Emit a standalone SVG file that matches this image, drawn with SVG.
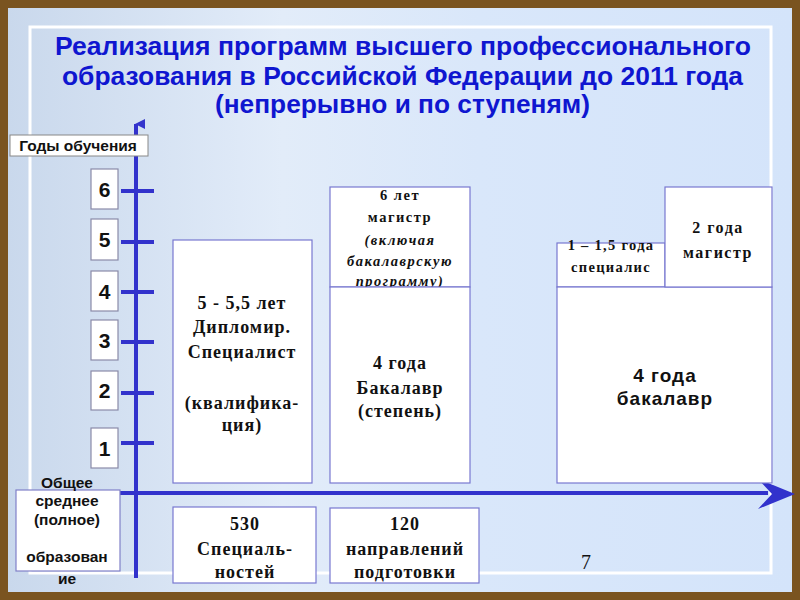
<svg xmlns="http://www.w3.org/2000/svg" width="800" height="600" viewBox="0 0 800 600">
<defs>
<linearGradient id="bg" x1="0" y1="0" x2="1" y2="0">
<stop offset="0" stop-color="#c9d8ec"/>
<stop offset="0.35" stop-color="#e2ecf9"/>
<stop offset="0.6" stop-color="#d9e7fa"/>
<stop offset="1" stop-color="#d4e4fa"/>
</linearGradient>
<marker id="upArrow" viewBox="0 0 10 10" refX="5" refY="1" markerWidth="2.5" markerHeight="3" orient="auto-start-reverse" markerUnits="strokeWidth">
<path d="M0,10 L5,0 L10,10 Z" fill="#3535cc"/>
</marker>
<style>
.axis{stroke:#3232cc;stroke-width:4;fill:none}
.tick{stroke:#3232cc;stroke-width:4}
.box{fill:#ffffff;stroke:#7878d0;stroke-width:1.2}
.nbox{fill:#ffffff;stroke:#8a8aa8;stroke-width:1.2}
.num{font-family:"Liberation Sans",Arial,sans-serif;font-weight:bold;font-size:21px;fill:#111;text-anchor:middle}
.sans{font-family:"Liberation Sans",Arial,sans-serif;font-weight:bold;fill:#111;text-anchor:middle}
.serif{font-family:"Liberation Serif","Times New Roman",serif;font-weight:bold;fill:#111;text-anchor:middle}
.title{font-family:"Liberation Sans",Arial,sans-serif;font-weight:bold;font-size:25px;fill:#0f16d0;text-anchor:middle}
</style>
</defs>
<!-- frame -->
<rect x="0" y="0" width="800" height="600" fill="#7a5420"/>
<rect x="8" y="8" width="784" height="584" fill="url(#bg)"/>
<rect x="30" y="27" width="741" height="546" fill="none" stroke="#ffffff" stroke-width="3"/>
<!-- title -->
<g id="title">
<text class="title" x="403" y="55" textLength="696" lengthAdjust="spacingAndGlyphs">Реализация программ высшего профессионального</text>
<text class="title" x="402.5" y="85" textLength="681" lengthAdjust="spacingAndGlyphs">образования в Российской Федерации до 2011 года</text>
<text class="title" x="402.5" y="113" textLength="375" lengthAdjust="spacingAndGlyphs">(непрерывно и по ступеням)</text>
</g>
<!-- connectors / axes -->
<g id="axes">
<line class="axis" x1="136" y1="578" x2="136" y2="124" marker-end="url(#upArrow)"/>
<line class="axis" x1="118" y1="493" x2="768" y2="493"/>
<path d="M795,494 L758,479 L772,494 L758,509 Z" fill="#3232cc"/>
<line class="tick" x1="121" y1="191" x2="154" y2="191"/>
<line class="tick" x1="121" y1="242" x2="154" y2="242"/>
<line class="tick" x1="121" y1="292" x2="154" y2="292"/>
<line class="tick" x1="121" y1="342" x2="154" y2="342"/>
<line class="tick" x1="121" y1="393" x2="154" y2="393"/>
<line class="tick" x1="121" y1="443" x2="154" y2="443"/>
</g>
<!-- axis label -->
<g id="years-label">
<rect x="10" y="135" width="138" height="21" fill="#ffffff" stroke="#888" stroke-width="1"/>
<text class="sans" x="78" y="151" font-size="15.5">Годы обучения</text>
</g>
<!-- year number boxes -->
<g id="y6"><rect class="nbox" x="91" y="169" width="27" height="40"/><text class="num" x="104.5" y="197">6</text></g>
<g id="y5"><rect class="nbox" x="91" y="219" width="27" height="41"/><text class="num" x="104.5" y="247">5</text></g>
<g id="y4"><rect class="nbox" x="91" y="271" width="27" height="40"/><text class="num" x="104.5" y="299">4</text></g>
<g id="y3"><rect class="nbox" x="91" y="320" width="27" height="40"/><text class="num" x="104.5" y="348">3</text></g>
<g id="y2"><rect class="nbox" x="91" y="371" width="27" height="39"/><text class="num" x="104.5" y="398">2</text></g>
<g id="y1"><rect class="nbox" x="91" y="428" width="27" height="40"/><text class="num" x="104.5" y="456">1</text></g>
<!-- general secondary -->
<g id="general">
<rect x="16" y="490" width="104" height="81" fill="#ffffff" stroke="#8080c8" stroke-width="1.2"/>
<g class="sans" font-size="15.5">
<text x="67" y="488">Общее</text>
<text x="67" y="506">среднее</text>
<text x="67" y="525">(полное)</text>
<text x="67" y="562">образован</text>
<text x="67" y="584">ие</text>
</g>
</g>
<!-- specialist -->
<g id="specialist">
<rect class="box" x="173" y="240" width="139" height="243"/>
<g class="serif" font-size="18" letter-spacing="1">
<text x="242" y="309">5 - 5,5 лет</text>
<text x="242" y="333">Дипломир.</text>
<text x="242" y="358">Специалист</text>
<text x="242" y="409">(квалифика-</text>
<text x="242" y="431">ция)</text>
</g>
</g>
<!-- 6 years magistr -->
<g id="magistr6">
<rect class="box" x="330" y="187" width="140" height="100"/>
<g class="serif" font-size="14.5" letter-spacing="1.5">
<text x="400" y="200">6 лет</text>
<text x="400" y="222">магистр</text>
<text x="400" y="245" font-style="italic">(включая</text>
<text x="400" y="266" font-style="italic">бакалаврскую</text>
<text x="400" y="286" font-style="italic">программу)</text>
</g>
</g>
<!-- bachelor -->
<g id="bachelor">
<rect class="box" x="330" y="287" width="140" height="196"/>
<g class="serif" font-size="18" letter-spacing="1">
<text x="400" y="369">4 года</text>
<text x="400" y="394">Бакалавр</text>
<text x="400" y="417">(степень)</text>
</g>
</g>
<!-- specialist 1-1.5 -->
<g id="spec15">
<rect class="box" x="557" y="243" width="108" height="44"/>
<g class="serif" font-size="14.5" letter-spacing="1.3">
<text x="611" y="250">1 – 1,5 года</text>
<text x="611" y="272">специалис</text>
<text x="611" y="295">т</text>
</g>
</g>
<!-- 4 years bachelor right -->
<g id="bachelor4">
<rect class="box" x="557" y="287" width="215" height="196"/>
<g class="sans" font-size="19" letter-spacing="1">
<text x="665" y="382">4 года</text>
<text x="665" y="405">бакалавр</text>
</g>
</g>
<!-- 2 years magistr -->
<g id="magistr2">
<rect class="box" x="665" y="187" width="107" height="100"/>
<g class="serif" font-size="16" letter-spacing="1.5">
<text x="718" y="233">2 года</text>
<text x="718" y="258">магистр</text>
</g>
</g>
<!-- counts -->
<g id="spec530">
<rect class="box" x="173" y="507" width="143" height="76"/>
<g class="serif" font-size="18" letter-spacing="1">
<text x="245" y="530">530</text>
<text x="245" y="555">Специаль-</text>
<text x="245" y="578">ностей</text>
</g>
</g>
<g id="dir120">
<rect class="box" x="330" y="508" width="149" height="75"/>
<g class="serif" font-size="18" letter-spacing="1">
<text x="405" y="530">120</text>
<text x="405" y="555">направлений</text>
<text x="405" y="578">подготовки</text>
</g>
</g>
<text x="586" y="569" font-family="Liberation Serif,Times New Roman,serif" font-size="20" fill="#111" text-anchor="middle">7</text>
</svg>
